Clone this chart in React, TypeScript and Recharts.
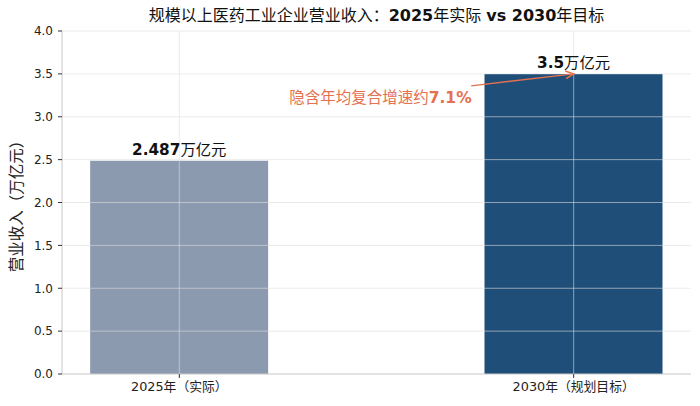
import { BarChart, Bar, Cell, XAxis, YAxis, LabelList, ReferenceLine, ReferenceDot } from 'recharts';

const categories = ['2025年（实际）', '2030年（规划目标）'];
const revenue = [2.487, 3.5];
const barColors = ['#8c9ab0', '#1f4e79'];
const yTicks = [0, 0.5, 1, 1.5, 2, 2.5, 3, 3.5, 4];
const xTicks = [0, 1];
const unit = '万亿元';
const cagrLabel = '隐含年均复合增速约';
const cagrValue = '7.1%';
// annotation anchors in data coordinates (x = category index, y = 万亿元)
const cagrTextAt = { x: 0.51, y: 3.22 };
const arrowFrom = { x: 0.74, y: 3.36 };
const arrowTo = { x: 1.0, y: 3.5 };

const data = categories.map((name, i) => ({ idx: i, name, value: revenue[i] }));

const FONT = '"DejaVu Sans", "Noto Sans CJK SC", sans-serif';
const ACCENT = '#e4714f';
const GRID = '#dddddd';

const BarValueLabel = (props: any) => {
  const { x, y, width, value } = props;
  return (
    <text x={x + width / 2} y={y - 6} textAnchor="middle" fontSize={15.3} fill="#111" fontFamily={FONT}>
      <tspan fontWeight="bold">{value}</tspan>
      <tspan>{unit}</tspan>
    </text>
  );
};

const ArrowShape = (props: any) => {
  const { x1, y1, x2, y2 } = props;
  const ang = Math.atan2(y2 - y1, x2 - x1);
  const len = 9;
  const spread = 0.45;
  const ax = x2 - len * Math.cos(ang - spread);
  const ay = y2 - len * Math.sin(ang - spread);
  const bx = x2 - len * Math.cos(ang + spread);
  const by = y2 - len * Math.sin(ang + spread);
  return (
    <g>
      <line x1={x1} y1={y1} x2={x2} y2={y2} stroke={ACCENT} strokeWidth={1.5} />
      <polyline points={`${ax},${ay} ${x2},${y2} ${bx},${by}`} fill="none" stroke={ACCENT} strokeWidth={1.5} />
    </g>
  );
};

const CagrText = (props: any) => {
  const { cx, cy } = props;
  return (
    <text x={cx} y={cy} dy={5} textAnchor="middle" fontSize={15.5} fill={ACCENT} fontFamily={FONT}>
      <tspan>{cagrLabel}</tspan>
      <tspan fontWeight="bold">{cagrValue}</tspan>
    </text>
  );
};

const YLabel = (props: any) => {
  const { viewBox } = props;
  const cy = viewBox.y + viewBox.height / 2;
  return (
    <text x={17} y={cy} transform={`rotate(-90, 17, ${cy})`} dy={5} textAnchor="middle" fontSize={15.5} fill="#222" fontFamily={FONT}>
      营业收入（万亿元）
    </text>
  );
};

export default function App() {
  return (
    <div style={{ position: 'absolute', left: 0, top: 0, width: 700, height: 406, background: '#fff', fontFamily: FONT }}>
      <div
        style={{
          position: 'absolute',
          left: 62,
          width: 629,
          top: 5,
          lineHeight: '22px',
          whiteSpace: 'nowrap',
          textAlign: 'center',
          fontSize: 16,
          color: '#111',
        }}
      >
        规模以上医药工业企业营业收入：<b>2025</b>年实际 <b>vs 2030</b>年目标
      </div>
      <BarChart width={700} height={406} data={data} margin={{ top: 31, right: 9, bottom: 0, left: 4 }}>
        <XAxis
          type="number"
          dataKey="idx"
          domain={[-0.2975, 1.2975]}
          ticks={xTicks}
          allowDataOverflow
          tickFormatter={(v: number) => categories[v]}
          height={32}
          axisLine={{ stroke: '#c8c8c8' }}
          tickLine={{ stroke: '#333' }}
          tickSize={4}
          tickMargin={4}
          tick={{ fontSize: 12.8, fill: '#222', fontFamily: FONT }}
        />
        <YAxis
          type="number"
          domain={[0, 4]}
          ticks={yTicks}
          width={58}
          tickFormatter={(v: number) => v.toFixed(1)}
          axisLine={{ stroke: '#c8c8c8' }}
          tickLine={{ stroke: '#333' }}
          tickSize={4}
          tickMargin={5}
          tick={{ fontSize: 12, fill: '#222', fontFamily: FONT }}
          label={<YLabel />}
        />
        <Bar dataKey="value" barSize={178} isAnimationActive={false}>
          {data.map((d, i) => (
            <Cell key={d.name} fill={barColors[i]} />
          ))}
          <LabelList dataKey="value" content={<BarValueLabel />} />
        </Bar>
        {/* grid drawn over the bars, as in the source */}
        {yTicks.filter((t) => t > 0).map((t) => (
          <ReferenceLine key={`gy${t}`} y={t} stroke={GRID} strokeOpacity={0.6} ifOverflow="visible" />
        ))}
        {xTicks.map((t) => (
          <ReferenceLine key={`gx${t}`} x={t} stroke={GRID} strokeOpacity={0.6} />
        ))}
        <ReferenceLine segment={[arrowFrom, arrowTo]} shape={<ArrowShape />} ifOverflow="visible" />
        <ReferenceDot x={cagrTextAt.x} y={cagrTextAt.y} r={0} shape={<CagrText />} ifOverflow="visible" />
      </BarChart>
    </div>
  );
}
